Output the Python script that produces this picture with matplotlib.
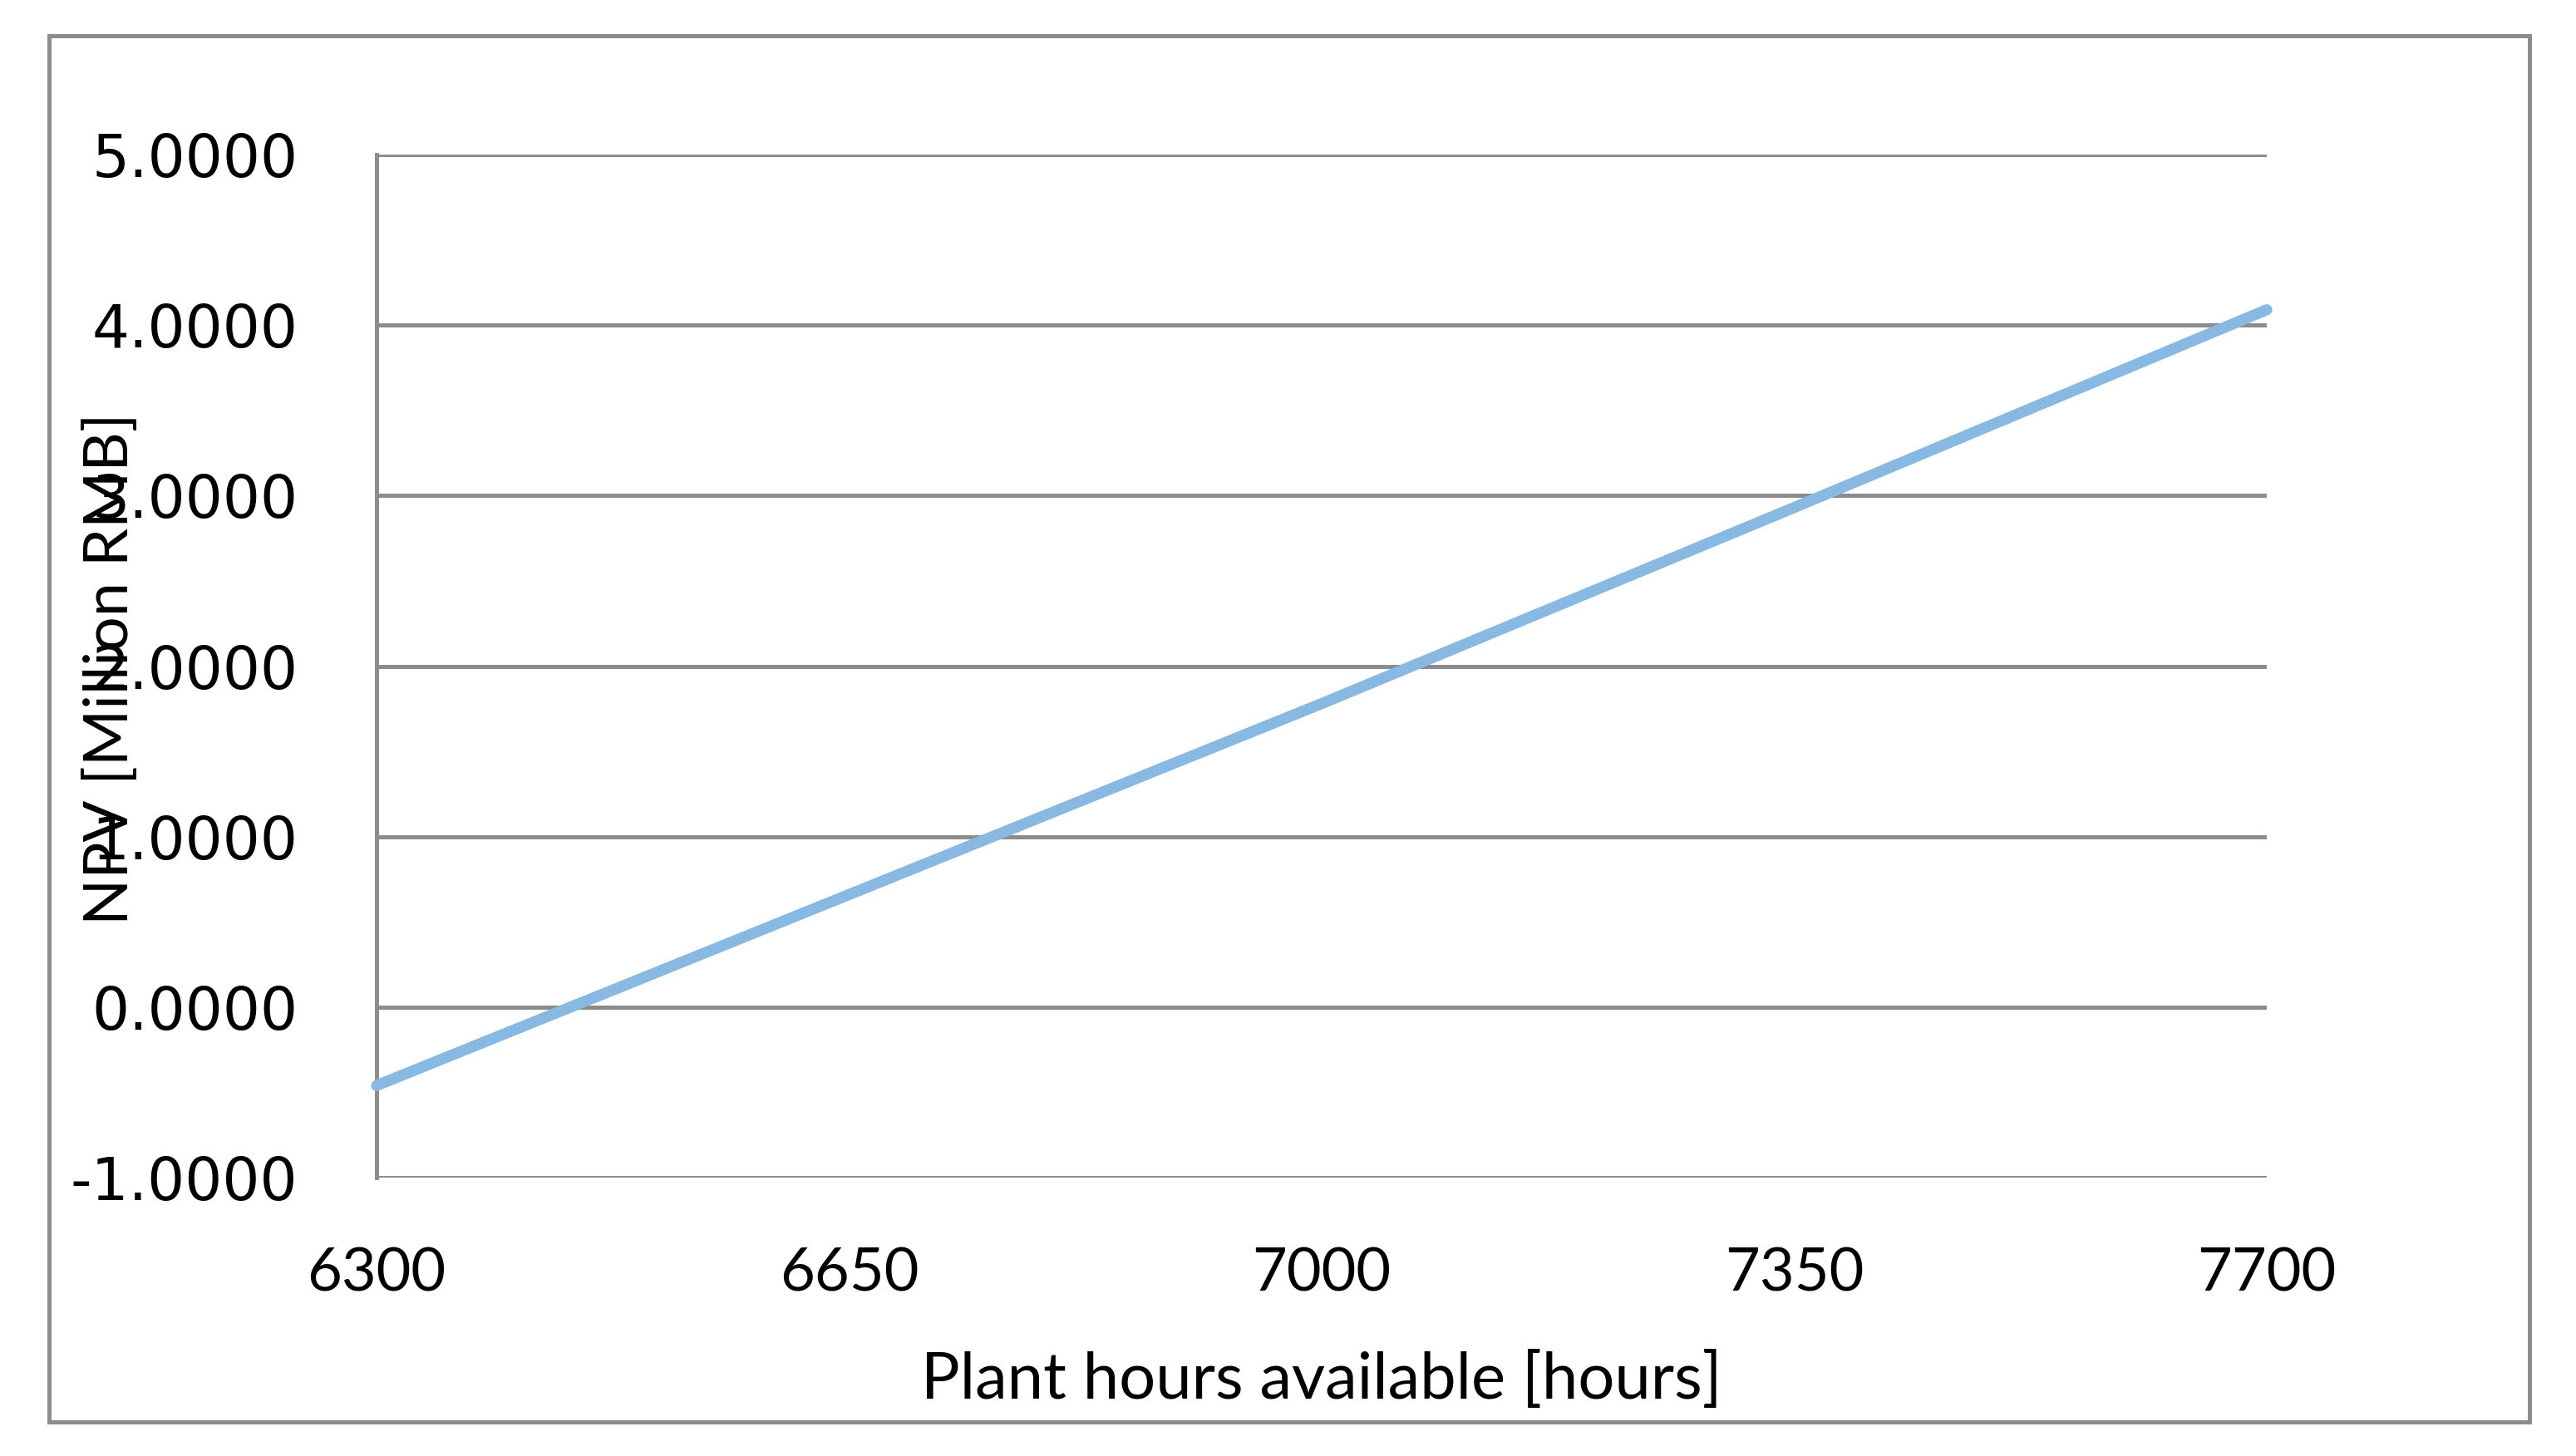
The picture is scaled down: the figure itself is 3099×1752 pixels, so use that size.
import matplotlib.pyplot as plt
from matplotlib.patches import Rectangle

hours = [6300, 6650, 7000, 7350, 7700]
npv = [-0.46, 0.66, 1.78, 2.93, 4.09]
y_ticks = [-1, 0, 1, 2, 3, 4, 5]

W, H = 3099, 1752
fig = plt.figure(figsize=(W / 200, H / 200), dpi=200)
ax = fig.add_axes([453 / W, 1 - 1417 / H, (2727 - 453) / W, (1417 - 186) / H])

grey = '#8c8c8c'
ax.plot(hours, npv, color='#88b9e2', lw=4.8, solid_capstyle='round', clip_on=False, zorder=3)

ax.set_xlim(6300, 7700)
ax.set_ylim(-1, 5)
ax.set_xticks(hours)
ax.set_xticklabels([str(h) for h in hours], family='Lato', fontsize=26)
ax.set_yticks(y_ticks)
ax.set_yticklabels(['%.4f' % v for v in y_ticks], family='DejaVu Sans', fontsize=25.5)
ax.tick_params(axis='y', length=0, pad=34)
ax.tick_params(axis='x', length=0, pad=30)
ax.grid(axis='y', color=grey, lw=1.8)
ax.set_axisbelow(True)
for s in ['top', 'right', 'bottom']:
    ax.spines[s].set_visible(False)
ax.spines['left'].set_color(grey)
ax.spines['left'].set_linewidth(1.8)

ax.set_xlabel('Plant hours available [hours]', family='Lato', fontsize=28, labelpad=22)
fig.text(134 / W, 1 - 805 / H, 'NPV [Million RMB]', rotation=90, family='Lato',
         fontsize=26.5, ha='center', va='center')

fig.patches.append(Rectangle((59 / W, 1 - 1711 / H), (3043 - 59) / W, (1711 - 43) / H,
                             transform=fig.transFigure, fill=False, edgecolor=grey, lw=1.8))

fig.savefig('out.png', dpi=200, facecolor='white')
